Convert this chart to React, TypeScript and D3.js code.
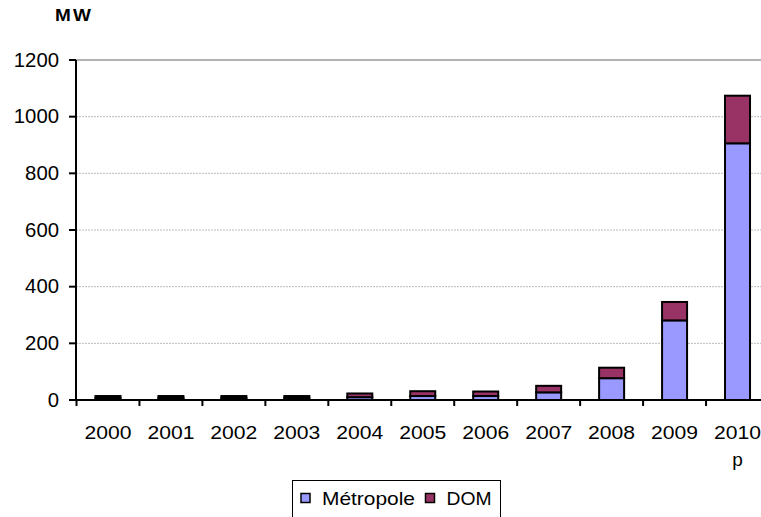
import React from "react";
import * as d3 from "d3";

const years = ["2000", "2001", "2002", "2003", "2004", "2005", "2006", "2007", "2008", "2009", "2010"];
const yearSub = ["", "", "", "", "", "", "", "", "", "", "p"];
const metropole = [7, 7, 7, 7, 10, 14, 14, 27, 77, 281, 906];
const dom = [7, 7, 7, 7, 13, 17, 16, 23, 37, 65, 168];
const yTicks = [0, 200, 400, 600, 800, 1000, 1200];
const seriesNames = ["Métropole", "DOM"];
const seriesColors = ["#9999FF", "#993366"];

export default function App() {
  const W = 761, H = 517;
  const x = d3.scaleBand<string>().domain(years).range([76.5, 769]);
  const y = d3.scaleLinear().domain([0, 1200]).range([400, 60]);
  const rows = years.map((yr, i) => ({ year: yr, m: metropole[i], d: dom[i] }));
  const stack = d3.stack<any>().keys(["m", "d"])(rows);
  const bw = 25;
  const font = "Arial, 'Liberation Sans', sans-serif";

  return (
    <svg width={W} height={H} style={{ position: "absolute", left: 0, top: 0, background: "#fff" }}>
      <g transform="translate(55,21) scale(1.15,1)">
        <text x={0} y={0} fontFamily={font} fontWeight="bold" fontSize={16.5} letterSpacing={2}>MW</text>
      </g>
      {yTicks.map((t) => (
        <g key={t}>
          {t > 0 && (
            <line x1={76} x2={769} y1={y(t)} y2={y(t)}
              stroke={t === 1200 ? "#999" : "#bbb"} strokeWidth={t === 1200 ? 1.5 : 1}
              strokeDasharray={t === 1200 ? undefined : "2,1"} />
          )}
          <line x1={69} x2={76} y1={y(t)} y2={y(t)} stroke="#000" strokeWidth={2} />
          <text x={59} y={y(t)} dy="0.35em" textAnchor="end" fontFamily={font} fontSize={19.5}
            textLength={String(t).length * 11.3} lengthAdjust="spacingAndGlyphs">{t}</text>
        </g>
      ))}
      {stack.map((s, si) => (
        <g key={si}>
          {s.map((d, i) => {
            const cx = (x(years[i]) as number) + x.bandwidth() / 2;
            return (
              <rect key={i} x={cx - bw / 2} y={y(d[1])} width={bw} height={y(d[0]) - y(d[1])}
                fill={seriesColors[si]} stroke="#000" strokeWidth={2} />
            );
          })}
        </g>
      ))}
      <line x1={76} x2={76} y1={60} y2={401} stroke="#000" strokeWidth={2} />
      <line x1={69} x2={769} y1={400} y2={400} stroke="#000" strokeWidth={2} />
      {years.map((yr) => (
        <line key={"t" + yr} x1={(x(yr) as number)} x2={(x(yr) as number)} y1={400} y2={406} stroke="#000" strokeWidth={2} />
      ))}
      {years.map((yr, i) => {
        const cx = (x(yr) as number) + x.bandwidth() / 2;
        return (
          <g key={"l" + yr}>
            <text x={cx} y={439} textAnchor="middle" fontFamily={font} fontSize={19}
              textLength={47} lengthAdjust="spacingAndGlyphs">{yr}</text>
            {yearSub[i] && (
              <text x={cx} y={466} textAnchor="middle" fontFamily={font} fontSize={19}>{yearSub[i]}</text>
            )}
          </g>
        );
      })}
      <rect x={292.5} y={480.5} width={208} height={50} fill="#fff" stroke="#000" strokeWidth={1} />
      {seriesNames.map((n, i) => {
        const lx = [301, 425.5][i];
        return (
          <g key={n}>
            <rect x={lx} y={493.5} width={9} height={9} fill={seriesColors[i]} stroke="#000" strokeWidth={1.5} />
            <text x={lx + 21} y={505} fontFamily={font} fontSize={19}
              textLength={i === 0 ? 93 : 45} lengthAdjust="spacingAndGlyphs">{n}</text>
          </g>
        );
      })}
    </svg>
  );
}
